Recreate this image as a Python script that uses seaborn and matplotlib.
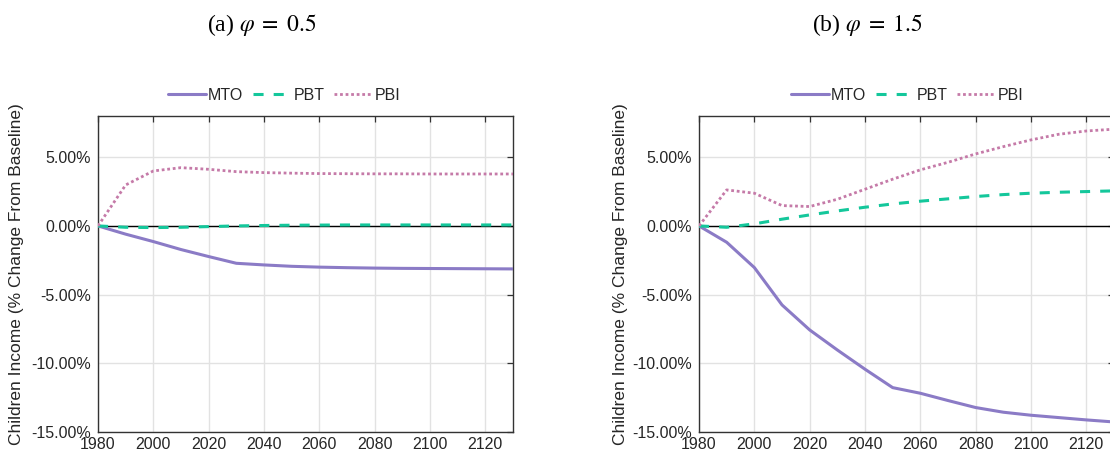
import numpy as np
import pandas as pd
import matplotlib
matplotlib.use("Agg")
import matplotlib.pyplot as plt
from matplotlib.ticker import FuncFormatter
import seaborn as sns

years = [1980, 1990, 2000, 2010, 2020, 2030, 2040, 2050, 2060, 2070, 2080, 2090, 2100, 2110, 2120, 2130]

# Panel (a) phi = 0.5
mto_a = [0.0, -0.6, -1.14, -1.72, -2.23, -2.72, -2.84, -2.94, -3.0, -3.04, -3.07, -3.09, -3.1, -3.11, -3.12, -3.13]
pbt_a = [0.0, -0.1, -0.12, -0.1, -0.05, 0.0, 0.03, 0.05, 0.06, 0.07, 0.07, 0.07, 0.07, 0.07, 0.07, 0.07]
pbi_a = [0.0, 2.98, 4.0, 4.24, 4.12, 3.95, 3.88, 3.84, 3.81, 3.8, 3.79, 3.79, 3.78, 3.78, 3.78, 3.78]

# Panel (b) phi = 1.5
mto_b = [0.0, -1.19, -3.03, -5.75, -7.57, -9.03, -10.43, -11.77, -12.18, -12.71, -13.22, -13.56, -13.78, -13.95, -14.12, -14.27]
pbt_b = [0.0, -0.1, 0.15, 0.49, 0.8, 1.09, 1.36, 1.6, 1.8, 1.97, 2.14, 2.28, 2.38, 2.45, 2.5, 2.55]
pbi_b = [0.0, 2.62, 2.38, 1.48, 1.41, 1.94, 2.67, 3.4, 4.08, 4.63, 5.24, 5.77, 6.26, 6.67, 6.91, 7.04]

series_names = ["MTO", "PBT", "PBI"]
titles = [r"(a) $\varphi\;=\;0.5$", r"(b) $\varphi\;=\;1.5$"]
ylabel = "Children Income (% Change From Baseline)"
xticks = [1980, 2000, 2020, 2040, 2060, 2080, 2100, 2120]
yticks = [-15, -10, -5, 0, 5]

colors = {"MTO": "#8b7bc6", "PBT": "#14c79b", "PBI": "#c57aa8"}
styles = {"MTO": "-", "PBT": (0, (3.3, 3.3)), "PBI": (0, (1.0, 1.0))}
widths = {"MTO": 2.2, "PBT": 2.2, "PBI": 2.0}

sns.set_theme(style="white")
plt.rcParams["font.family"] = ["Liberation Sans", "DejaVu Sans"]
plt.rcParams["mathtext.fontset"] = "stix"

fig = plt.figure(figsize=(11.1, 4.57), dpi=100)
W, H = 1110, 457
ax_w = (513 - 98) / W
ax_h = (432 - 116) / H
ax_b = (457 - 432) / H
axes = [fig.add_axes([98 / W, ax_b, ax_w, ax_h]), fig.add_axes([699 / W, ax_b, ax_w, ax_h])]

data = [
    {"MTO": mto_a, "PBT": pbt_a, "PBI": pbi_a},
    {"MTO": mto_b, "PBT": pbt_b, "PBI": pbi_b},
]

title_x = [262 / W, 867 / W]
leg_x = [284 / W, 907 / W]
ylab_x = [17 / W, 620 / W]

for i, ax in enumerate(axes):
    ax.axhline(0, color="black", lw=1.0, zorder=1)
    for name in series_names:
        sns.lineplot(x=years, y=data[i][name], ax=ax, color=colors[name],
                     linestyle=styles[name], lw=widths[name], label=name, zorder=3)
    h, l = ax.get_legend_handles_labels()
    ax.get_legend().remove()
    ax.set_xlim(1980, 2130)
    ax.set_ylim(-15, 8)
    ax.set_xticks(xticks)
    ax.set_yticks(yticks)
    ax.yaxis.set_major_formatter(FuncFormatter(lambda v, p: f"{v:.2f}%"))
    ax.grid(True, color="#e2e2e2", lw=1.0, zorder=0)
    ax.tick_params(direction="in", length=4, width=0.9, top=True, right=True,
                   labelsize=11.5, colors="#333333", labelcolor="#262626")
    ax.tick_params(axis="x", pad=3.5)
    ax.tick_params(axis="y", pad=5)
    for sp in ax.spines.values():
        sp.set_color("#333333")
        sp.set_linewidth(1.0)
        sp.set_visible(True)
    ax.set_xlabel("")
    ax.set_ylabel("")
    fig.text(ylab_x[i], 1 - 274 / H, ylabel, rotation=90, ha="center", va="center",
             fontsize=12.5, color="#262626")
    fig.text(title_x[i], 1 - 25 / H, titles[i], ha="center", va="center",
             fontsize=17, family=["Liberation Serif", "DejaVu Serif"], color="black")
    fig.legend(h, l, loc="center", bbox_to_anchor=(leg_x[i], 1 - 95 / H), ncol=3,
               frameon=False, fontsize=11.5, handlelength=2.38, handletextpad=0.15,
               columnspacing=0.6, borderpad=0)

fig.savefig("out.png", dpi=100)
